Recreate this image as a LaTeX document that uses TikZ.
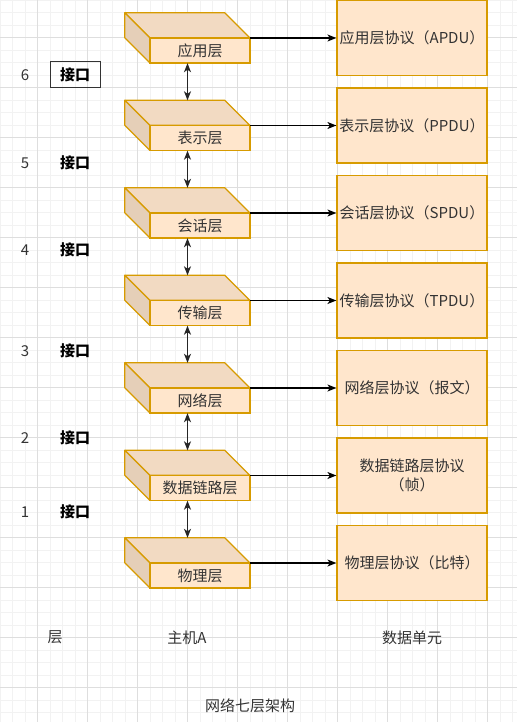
\documentclass[tikz,border=0pt]{standalone}
\usepackage{fontspec}
\setmainfont{Noto Sans CJK SC}
\usetikzlibrary{arrows.meta,positioning}
\definecolor{boxfill}{HTML}{FFE6CC}
\definecolor{boxline}{HTML}{D79B00}
\definecolor{inktext}{HTML}{333333}
\definecolor{gridminor}{HTML}{F2F2F2}
\definecolor{gridmajor}{HTML}{DEDEDE}
\newcommand{\txt}{\fontsize{15}{19}\selectfont}
\tikzset{
  cubebox/.style={minimum width=125pt,minimum height=50pt,inner sep=0pt},
  front/.style={draw=boxline,fill=boxfill,line width=1.2pt,minimum width=100pt,
    minimum height=25pt,inner sep=0pt,font=\txt,text=inktext},
  pdubox/.style={draw=boxline,fill=boxfill,line width=1.2pt,minimum width=150pt,
    minimum height=75pt,inner sep=2pt,align=center,font=\txt,text=inktext},
  tag/.style={font=\txt,text=inktext,inner sep=1pt},
  flow/.style={-{Stealth[length=9pt,width=7pt,inset=2.5pt]},line width=1.2pt},
  link/.style={{Stealth[length=9pt,width=7pt,inset=2.5pt]}-{Stealth[length=9pt,width=7pt,inset=2.5pt]},
    line width=1.2pt,black!85}
}
\begin{document}
\begin{tikzpicture}[x=1pt,y=-1pt]
  \useasboundingbox (0,0) rectangle (517,722);
  % Grid
  \foreach \g in {0,12.5,...,525} \draw[gridminor,line width=0.8pt] (\g,0) -- (\g,722);
  \foreach \g in {0,12.5,...,725} \draw[gridminor,line width=0.8pt] (0,\g) -- (517,\g);
  \foreach \g in {37.5,87.5,...,517} \draw[gridmajor,line width=0.8pt] (\g,0) -- (\g,722);
  \foreach \g in {37.5,87.5,...,722} \draw[gridmajor,line width=0.8pt] (0,\g) -- (517,\g);
  % Layers of host A and their data units
  \foreach \i/\lay/\pdu in {0/应用层/应用层协议（APDU）, 1/表示层/表示层协议（PPDU）,
      2/会话层/会话层协议（SPDU）, 3/传输层/传输层协议（TPDU）, 4/网络层/网络层协议（报文）,
      5/数据链路层/数据链路层协议\\（帧）, 6/物理层/物理层协议（比特）} {
    \pgfmathsetmacro{\y}{13 + \i*87.5}
    \node[cubebox] (c\i) at (187.5,\y+25) {};
    \filldraw[fill=boxfill!95!black,draw=boxline,line width=1.2pt,line join=round]
      (c\i.north west) -- ++(100,0) -- ++(25,25) -- ++(-100,0) -- cycle;
    \filldraw[fill=boxfill!90!black,draw=boxline,line width=1.2pt,line join=round]
      (c\i.north west) -- ++(25,25) -- ++(0,25) -- ++(-25,-25) -- cycle;
    \node[front] (f\i) at (200,\y+37.5) {\lay};
    \node[pdubox] (p\i) at (412,\y+25) {\pdu};
    \draw[flow] (c\i.east) -- (p\i.west);
  }
  \foreach \i in {0,...,5} {
    \pgfmathtruncatemacro{\j}{\i+1}
    \draw[link] (c\i.south) -- (c\j.north);
  }
  % Interfaces
  \foreach \n/\y in {6/75, 5/163, 4/250, 3/351, 2/438, 1/512} {
    \node[tag] (n\n) at (25,\y) {\n};
    \node[tag,font=\txt\bfseries,text=black] (i\n) at (75,\y) {接口};
  }
  \node[draw=black!80,line width=1pt,minimum width=50pt,minimum height=26pt] (ibox) at (i6) {};
  % Column labels
  \node[tag] (colL) at (55,637) {层};
  \node[tag] (colA) at (187,638) {主机A};
  \node[tag] (colU) at (412,638) {数据单元};
  \node[tag] (title) at (250,706) {网络七层架构};
\end{tikzpicture}
\end{document}
